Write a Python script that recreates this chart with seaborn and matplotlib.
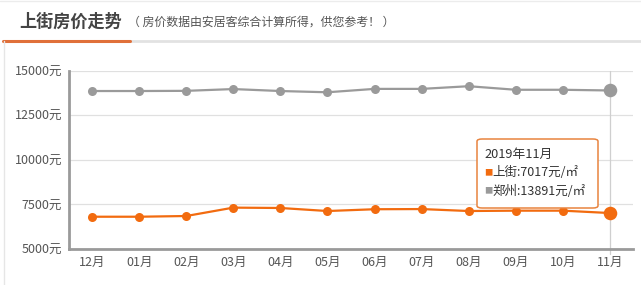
import matplotlib
matplotlib.use("Agg")
import matplotlib.pyplot as plt
import seaborn as sns
import pandas as pd
from matplotlib.patches import FancyBboxPatch
from matplotlib.lines import Line2D

months = ["12月", "01月", "02月", "03月", "04月", "05月", "06月", "07月", "08月", "09月", "10月", "11月"]
shangjie = [6810, 6810, 6850, 7320, 7300, 7130, 7230, 7240, 7130, 7150, 7150, 7017]
zhengzhou = [13860, 13860, 13870, 13970, 13860, 13790, 13980, 13980, 14130, 13930, 13930, 13891]
yticks = [5000, 7500, 10000, 12500, 15000]
title = "上街房价走势"
subtitle = "（ 房价数据由安居客综合计算所得，供您参考！ ）"
tip_title = "2019年11月"
tip_lines = ["上街:7017元/㎡", "郑州:13891元/㎡"]

ORANGE = "#f26b0f"
GRAY = "#9a9a9a"

sns.set_theme(style="white")
plt.rcParams["font.family"] = ["Noto Sans CJK SC", "DejaVu Sans"]

df = pd.DataFrame({
    "x": list(range(len(months))) * 2,
    "v": shangjie + zhengzhou,
    "s": ["上街"] * len(months) + ["郑州"] * len(months),
})

fig = plt.figure(figsize=(6.41, 2.85), dpi=100)
ax = fig.add_axes([69 / 641, 1 - 249 / 285, (633 - 69) / 641, (249 - 70.7) / 285])

for y in yticks:
    ax.axhline(y, color="#e0e0e0", lw=0.9, zorder=0)
ax.axvline(11, color="#cfcfcf", lw=0.9, zorder=1, ymin=-0.03, clip_on=False)

sns.lineplot(data=df, x="x", y="v", hue="s", palette={"上街": ORANGE, "郑州": GRAY},
             marker="o", markersize=6.5, markeredgewidth=0, lw=1.6, legend=False, ax=ax, zorder=3)
# highlighted last points
ax.scatter([11], [shangjie[-1]], s=95, color=ORANGE, zorder=4, linewidths=0)
ax.scatter([11], [zhengzhou[-1]], s=95, color=GRAY, zorder=4, linewidths=0)

ax.set_xlim(-0.49, 11.49)
ax.set_ylim(5000, 15000)
ax.set_yticks(yticks)
ax.set_yticklabels([f"{v}元" for v in yticks], fontsize=9, color="#555555")
ax.set_xticks(range(len(months)))
ax.set_xticklabels(months, fontsize=9, color="#555555")
ax.set_xlabel("")
ax.set_ylabel("")
for side in ["top", "right"]:
    ax.spines[side].set_visible(False)
for side in ["left", "bottom"]:
    ax.spines[side].set_color("#9a9a9a")
    ax.spines[side].set_linewidth(2)
ax.tick_params(axis="x", length=3, color="#cccccc", pad=2)
ax.tick_params(axis="y", length=0, pad=5)

# header
fig.text(19 / 641, 1 - 22 / 285, title, fontsize=12.3, fontweight="bold", color="#444444", va="center", ha="left")
fig.text(128 / 641, 1 - 22 / 285, subtitle, fontsize=8.6, color="#555555", va="center", ha="left")
fig.add_artist(Line2D([130 / 641, 1], [1 - 40.5 / 285] * 2, color="#e2e2e2", lw=2, transform=fig.transFigure))
fig.add_artist(Line2D([3 / 641, 130 / 641], [1 - 40.5 / 285] * 2, color="#e0703a", lw=2.2, transform=fig.transFigure))
fig.add_artist(Line2D([3.5 / 641, 3.5 / 641], [0, 1 - 41 / 285], color="#e6e6e6", lw=1, transform=fig.transFigure))
fig.add_artist(Line2D([0, 1], [1 - 1 / 285] * 2, color="#ececec", lw=1, transform=fig.transFigure))

# tooltip
box = FancyBboxPatch((477 / 641, 1 - 208 / 285), (598 - 477) / 641, (208 - 139) / 285,
                     boxstyle="round,pad=0,rounding_size=0.008", transform=fig.transFigure,
                     facecolor="white", edgecolor="#e8843f", lw=1.1, zorder=10)
fig.add_artist(box)
fig.text(484 / 641, 1 - 154 / 285, tip_title, fontsize=9.2, color="#333333", va="center", zorder=11)
fig.text(484 / 641, 1 - 173 / 285, "■", fontsize=6, color=ORANGE, va="center", zorder=11)
fig.text(492 / 641, 1 - 173 / 285, tip_lines[0], fontsize=9, color="#333333", va="center", zorder=11)
fig.text(484 / 641, 1 - 191 / 285, "■", fontsize=6, color=GRAY, va="center", zorder=11)
fig.text(492 / 641, 1 - 191 / 285, tip_lines[1], fontsize=9, color="#333333", va="center", zorder=11)

fig.savefig("out.png", dpi=100)
